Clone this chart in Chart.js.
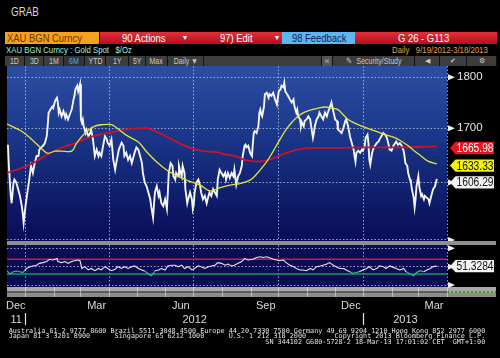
<!DOCTYPE html>
<html>
<head>
<meta charset="utf-8">
<script src="https://cdn.jsdelivr.net/npm/chart.js@4.4.1/dist/chart.umd.min.js"></script>
<style>
  html, body { margin:0; padding:0; background:#000; }
  #root { position:relative; width:500px; height:358px; overflow:hidden; background:#000;
          font-family:"Liberation Sans",Arial,sans-serif; }
  .t { position:absolute; white-space:pre; }
  .nx { display:inline-block; transform:scaleX(0.82); transform-origin:0 50%; white-space:pre; }
  .bar { position:absolute; height:12px; line-height:12px; font-size:11.5px; overflow:hidden; white-space:pre; }
  .bar span { position:absolute; top:0; }
  .red { background:linear-gradient(#e2303a,#b3101d); color:#fff; }
  .tb { position:absolute; top:56px; height:10px; line-height:10px; font-size:8.5px; color:#c9c9c9;
        background:#3d3d3d; text-align:center; border-right:1px solid #111; box-sizing:border-box;
        white-space:pre; overflow:hidden; }
  .tb .nx { transform-origin:50% 50%; }
  canvas { position:absolute; left:0; }
  #sep1 { position:absolute; left:7px; top:241px; width:489px; height:4px; background:#8f8f8f; }
  #band1 { position:absolute; left:7px; top:287px; width:489px; height:4px; background:#a9a9a9; }
  #band2 { position:absolute; left:7px; top:291px; width:489px; height:2px; background:#5a5a5a; }
  #band3 { position:absolute; left:7px; top:293px; width:489px; height:4px; background:#8c8c8c; }
  #bandR { position:absolute; left:449px; top:291px; width:46px; height:2px;
           background:repeating-linear-gradient(90deg,#7cd04a 0 2px,#6a7a60 2px 4px); }
  #foot { position:absolute; left:8.7px; top:328.5px; font-family:"DejaVu Sans Mono",monospace;
          font-size:6.78px; line-height:5.8px; color:#e2e2e2; white-space:pre; margin:0; }
</style>
</head>
<body>
<div id="root">
  <div class="t" style="left:11px;top:5px;font-size:12px;color:#d6d6d6;"><span class="nx">GRAB</span></div>

  <div class="bar" style="left:5px;top:32px;width:94px;background:#f6a11e;color:#6a3400;"><span style="left:2px" class="nx">XAU BGN Curncy</span></div>
  <div class="bar red" style="left:100px;top:32px;width:182px;">
    <span style="left:22px" class="nx">90 Actions</span><span style="left:83px;font-size:8px">&#9662;</span>
    <span style="left:120px" class="nx">97) Edit</span><span style="left:175px;font-size:8px">&#9662;</span>
  </div>
  <div class="bar" style="left:282px;top:32px;width:73px;background:#5fb5ef;color:#0c1e52;"><span style="left:10px" class="nx">98 Feedback</span></div>
  <div class="bar red" style="left:355px;top:32px;width:142px;"><span style="left:43px" class="nx">G 26 - G113</span></div>

  <div class="t" style="left:6px;top:44px;font-size:9.5px;color:#a6ecdc;"><span class="nx">XAU BGN Curncy : Gold Spot   $/Oz</span></div>
  <div class="t" style="left:392px;top:44px;font-size:9.5px;color:#e0a042;"><span class="nx">Daily   9/19/2012-3/18/2013</span></div>

  <div class="tb" style="left:5px;width:20px;"><span class="nx">1D</span></div>
  <div class="tb" style="left:25px;width:19px;"><span class="nx">3D</span></div>
  <div class="tb" style="left:44px;width:20px;"><span class="nx">1M</span></div>
  <div class="tb" style="left:64px;width:21px;color:#45a6ff;background:#333;"><span class="nx">6M</span></div>
  <div class="tb" style="left:85px;width:21px;"><span class="nx">YTD</span></div>
  <div class="tb" style="left:106px;width:23px;"><span class="nx">1Y</span></div>
  <div class="tb" style="left:129px;width:17px;"><span class="nx">5Y</span></div>
  <div class="tb" style="left:146px;width:22px;"><span class="nx">Max</span></div>
  <div class="tb" style="left:168px;width:36px;"><span class="nx">Daily &#9660;</span></div>
  <div class="tb" style="left:204px;width:118px;"></div>
  <div class="tb" style="left:322px;width:11px;background:#555;">&#171;</div>
  <div class="tb" style="left:333px;width:82px;"><span class="nx">&#9998;  Security/Study</span></div>
  <div class="tb" style="left:415px;width:25px;font-size:7px;">&#9664;</div>
  <div class="tb" style="left:440px;width:27px;font-size:7px;">&#10004;</div>
  <div class="tb" style="left:467px;width:30px;font-size:7px;">&#9881;</div>

  <div id="sep1"></div>
  <div id="band1"></div><div id="band2"></div><div id="band3"></div><div id="bandR"></div>

  <canvas id="priceChart" width="500" height="175" style="top:66px;width:500px;height:175px;"></canvas>
  <canvas id="rsiChart" width="500" height="85" style="top:245px;width:500px;height:85px;"></canvas>

<pre id="foot">Australia 61 2 9777 8600 Brazil 5511 3048 4500 Europe 44 20 7330 7500 Germany 49 69 9204 1210 Hong Kong 852 2977 6000
Japan 81 3 3201 8900      Singapore 65 6212 1000      U.S. 1 212 318 2000       Copyright 2013 Bloomberg Finance L.P.
                                                               SN 344102 G680-5728-2 18-Mar-13 17:01:02 CET  GMT+1:00</pre>
</div>

<script>
// ---------- DATA (x values are calendar days counted from 2012-01-01) ----------
const viewStart = '2011-12-12';
const viewEnd = '2013-04-01';
const quarterDates = ['2012-01-01','2012-04-01','2012-07-01','2012-10-01','2013-01-01','2013-04-01'];
const monthLabels = ['Dec','Mar','Jun','Sep','Dec','Mar'];
const monthDates = ['2012-01-01','2012-02-01','2012-03-01','2012-04-01','2012-05-01','2012-06-01','2012-07-01',
  '2012-08-01','2012-09-01','2012-10-01','2012-11-01','2012-12-01','2013-01-01','2013-02-01','2013-03-01','2013-04-01'];
const yearLabels = ['11','2012','2013'];
const yearStarts = ['2011-01-01','2012-01-01','2013-01-01'];
const yearEnds   = ['2012-01-01','2013-01-01','2014-01-01'];
const priceTicks = [1500,1600,1700,1800];
const rsiTicks = [0,50,100];
const rsiUpper = 70, rsiLower = 30;

const priceDays = [-19,-18,-16,-15,-13,-12,-10,-8,-6,-4,-3,-2,0,1,3,5,6,8,10,12,14,15,17,19,21,23,24,25,27,29,30,32,34,35,36,37,39,41,43,44,46,48,50,52,53,54,56,57,59,60,61,62,63,65,66,68,70,71,73,75,77,79,80,82,84,86,88,89,91,93,95,97,98,101,104,106,107,109,111,113,115,116,118,120,122,124,126,127,129,131,133,135,136,138,140,142,144,145,147,149,151,153,154,155,157,159,160,162,163,165,166,167,169,170,172,173,175,176,178,180,181,182,183,185,187,189,190,192,194,196,198,199,201,203,205,207,208,210,212,214,216,217,219,221,223,225,226,228,230,232,234,235,237,238,239,241,243,245,246,247,248,250,252,253,254,255,256,258,259,261,263,264,266,268,270,272,273,274,276,277,279,280,281,282,284,286,288,290,291,293,294,295,297,298,299,301,302,304,306,308,309,311,312,313,315,317,318,320,322,324,326,327,329,331,333,335,337,338,342,344,346,347,349,351,353,355,356,357,358,360,362,364,365,367,368,370,371,372,373,375,376,378,380,382,383,385,387,389,391,392,394,396,398,400,401,403,405,407,409,410,411,413,414,416,417,418,420,421,422,423,425,426,428,429,431,432,434,436,437,439,440,441,443,445];
const priceValues = [1669,1630,1578,1563,1599,1605,1600,1588,1576,1558,1546,1529,1558,1570,1593,1617,1630,1617,1635,1648,1648,1660,1664,1667,1672,1685,1704,1730,1736,1742,1739,1753,1759,1750,1730,1736,1723,1733,1720,1727,1717,1727,1736,1756,1763,1776,1783,1772,1786,1717,1711,1717,1704,1691,1697,1685,1691,1697,1679,1648,1660,1648,1654,1648,1667,1685,1679,1672,1667,1679,1641,1623,1633,1660,1673,1667,1648,1654,1641,1648,1635,1641,1654,1664,1660,1648,1635,1617,1600,1593,1582,1570,1558,1538,1582,1593,1576,1582,1563,1558,1570,1553,1582,1617,1635,1630,1611,1605,1617,1611,1630,1623,1611,1630,1617,1588,1563,1570,1582,1570,1553,1560,1582,1600,1605,1593,1582,1570,1576,1563,1576,1582,1576,1588,1582,1576,1605,1623,1617,1611,1617,1605,1617,1608,1617,1611,1623,1596,1611,1617,1630,1648,1667,1669,1664,1667,1654,1648,1672,1691,1695,1691,1704,1730,1736,1727,1723,1742,1766,1769,1759,1766,1763,1769,1756,1746,1759,1772,1776,1783,1780,1789,1772,1769,1763,1756,1750,1756,1742,1730,1736,1723,1717,1704,1711,1704,1714,1717,1723,1717,1704,1682,1691,1704,1717,1723,1730,1723,1717,1730,1723,1730,1739,1750,1733,1717,1714,1698,1691,1701,1714,1717,1704,1685,1672,1660,1648,1638,1654,1658,1654,1660,1658,1667,1682,1688,1672,1641,1632,1654,1660,1667,1672,1675,1679,1685,1691,1688,1682,1675,1660,1658,1667,1672,1675,1669,1672,1667,1658,1648,1635,1630,1617,1605,1600,1588,1573,1556,1570,1593,1611,1593,1576,1579,1570,1576,1573,1570,1563,1576,1582,1588,1593,1606.29];

const maFastDays = [-20,-3,8,19,24,32,39,50,55,64,75,84,93,97,109,122,131,142,153,163,174,189,199,210,221,232,243,248,259,266,273,281,288,295,302,310,317,324,331,338,349,364,378,389,400,407,414,421,428,436,445];
const maFastValues = [1708,1693,1677,1659,1653,1657,1657,1657,1671,1690,1704,1707,1707,1703,1687,1674,1656,1637,1622,1613,1604,1595,1585,1590,1595,1598,1604,1611,1633,1651,1672,1695,1711,1723,1731,1736,1739,1741,1739,1736,1717,1704,1695,1688,1682,1675,1667,1657,1648,1638,1633.33];

const maSlowDays = [-20,-6,8,23,37,52,66,80,95,109,124,133,142,153,167,180,192,207,216,227,237,248,259,270,281,292,302,313,324,338,362,405,445];
const maSlowValues = [1617,1625,1635,1650,1662,1671,1681,1688,1693,1698,1700,1700,1693,1684,1671,1662,1657,1655,1651,1648,1641,1638,1639,1645,1653,1659,1662,1663,1663,1663,1664,1664,1665.98];

const rsiDays = [-20,-17,-13,-10,-6,-3,-1,1,5,8,12,15,19,23,26,30,34,35,39,43,46,50,53,57,59,61,64,68,71,75,79,82,86,89,93,97,100,104,107,111,115,118,122,126,129,133,136,138,140,144,147,151,154,158,162,165,169,172,176,180,183,187,190,194,198,201,205,208,212,216,219,223,226,230,234,237,241,246,250,254,257,261,264,268,272,275,279,282,286,290,293,297,300,304,308,311,315,319,322,326,329,333,336,340,344,347,351,354,358,361,365,369,372,376,380,383,387,390,394,398,401,405,409,412,416,420,423,427,431,434,438,441,445];
const rsiValues = [39,30,36,38,36,34,39,45,50,52,54,59,61,64,70,68,72,64,61,64,59,64,66,68,66,45,50,41,45,39,45,41,50,45,39,43,50,45,50,45,50,52,45,41,38,30,25,30,39,41,45,41,52,54,54,50,54,45,50,41,45,52,50,45,50,52,54,61,59,54,57,52,54,59,64,72,68,70,75,77,75,77,74,70,68,66,68,61,54,50,45,41,41,39,45,41,50,52,54,57,61,54,50,45,45,41,36,32,34,36,41,45,50,41,45,52,50,45,52,48,45,41,45,36,30,25,34,39,36,41,45,50,51.3284];

// ---------- helpers ----------
const SANS = '"Liberation Sans",Arial,sans-serif';
const ORIGIN = Date.UTC(2012, 0, 1);
const dayOf = s => { const [y, m, d] = s.split('-').map(Number); return Math.round((Date.UTC(y, m - 1, d) - ORIGIN) / 86400000); };
const xMin = dayOf(viewStart), xMax = dayOf(viewEnd);
const quarterDays = quarterDates.map(dayOf);
const monthDays = monthDates.map(dayOf);
const pts = (xs, ys) => xs.map((x, i) => ({ x, y: ys[i] }));
const GRID = 'rgba(178,188,228,0.85)';
const LABEL_SHIFT = 14;   // month label sits just before each quarter line (days)

const monthLabelTicks = quarterDays.map((d, i) => ({ value: Math.max(d - LABEL_SHIFT, xMin + 9.5), label: monthLabels[i] }));
const yearTicks = [];
yearLabels.forEach((lab, i) => {
  const a = Math.max(dayOf(yearStarts[i]), xMin), b = Math.min(dayOf(yearEnds[i]), xMax);
  if (dayOf(yearStarts[i]) > xMin) yearTicks.push({ value: dayOf(yearStarts[i]), label: '' });
  yearTicks.push({ value: (a + b) / 2, label: lab });
});
yearTicks.sort((p, q) => p.value - q.value);

Chart.defaults.font.family = SANS;
Chart.defaults.animation = false;

// ---------- plugins ----------
const panelBg = {
  id: 'panelBg',
  beforeDraw(chart, args, opts) {
    const { ctx, chartArea: a } = chart;
    ctx.save();
    if (opts.stops) {
      const g = ctx.createLinearGradient(0, a.top, 0, a.bottom);
      opts.stops.forEach(s => g.addColorStop(s[0], s[1]));
      ctx.fillStyle = g;
    } else ctx.fillStyle = opts.color;
    ctx.fillRect(a.left, a.top, a.right - a.left, a.bottom - a.top);
    ctx.restore();
  }
};
const axisMarkers = {
  id: 'axisMarkers',
  afterDraw(chart) {
    const { ctx, chartArea: a } = chart;
    const s = chart.scales.y;
    ctx.save();
    ctx.fillStyle = '#f2f2f2';
    s.ticks.forEach(t => {
      const p = s.getPixelForValue(t.value);
      ctx.beginPath();
      ctx.moveTo(a.right + 1, p - 3); ctx.lineTo(a.right + 8, p); ctx.lineTo(a.right + 1, p + 3);
      ctx.closePath(); ctx.fill();
    });
    ctx.restore();
  }
};
const valueTags = {
  id: 'valueTags',
  afterDraw(chart, args, opts) {
    const { ctx, chartArea: a } = chart;
    const s = chart.scales.y;
    const items = opts.tags.map(t => {
      const ds = chart.data.datasets[t.dataset];
      const v = ds.data[ds.data.length - 1].y;
      return Object.assign({}, t, { v, py: s.getPixelForValue(v) + opts.offset });
    }).sort((p, q) => p.py - q.py);
    let prev = -1e9;
    items.forEach(it => { it.py = Math.max(it.py, prev + opts.gap); prev = it.py; });
    ctx.save();
    ctx.font = opts.fontSize + 'px ' + SANS;
    ctx.textBaseline = 'middle';
    items.forEach(it => {
      const r = a.right, h = 6.2, y = it.py;
      ctx.beginPath();
      ctx.moveTo(r + 3, y); ctx.lineTo(r + 8.5, y - h); ctx.lineTo(r + 47, y - h);
      ctx.lineTo(r + 47, y + h); ctx.lineTo(r + 8.5, y + h); ctx.closePath();
      ctx.fillStyle = it.bg; ctx.fill();
      ctx.fillStyle = it.fg;
      ctx.save();
      ctx.translate(r + 9.5, y + 0.5);
      ctx.scale(0.82, 1);
      ctx.fillText(it.v.toFixed(it.digits), 0, 0);
      ctx.restore();
    });
    ctx.restore();
  }
};

const fitY = s => { s.width = 53; s.paddingTop = 0; s.paddingBottom = 0; };
const fitX = h => s => { s.height = h; s.paddingLeft = 0; s.paddingRight = 0; };

// ---------- price panel ----------
new Chart(document.getElementById('priceChart'), {
  type: 'line',
  data: {
    datasets: [
      { data: pts(maFastDays, maFastValues), borderColor: '#e4e43a', borderWidth: 1.3, pointRadius: 0, tension: 0.35 },
      { data: pts(maSlowDays, maSlowValues), borderColor: '#c9132d', borderWidth: 1.8, pointRadius: 0, tension: 0.35 },
      { data: pts(priceDays, priceValues), borderColor: '#f4f4f4', borderWidth: 1.9, pointRadius: 0, tension: 0 }
    ]
  },
  options: {
    responsive: false, animation: false, events: [],
    layout: { autoPadding: false, padding: { left: 7, right: 0, top: 0, bottom: 0 } },
    plugins: {
      legend: { display: false }, tooltip: { enabled: false },
      panelBg: { stops: [[0, '#2c4ea1'], [0.35, '#1d3a8d'], [0.7, '#10216f'], [1, '#0a0c57']] },
      valueTags: { offset: 1.6, gap: 16.8, fontSize: 12.5, tags: [
        { dataset: 1, bg: '#e5141f', fg: '#ffffff', digits: 2 },
        { dataset: 0, bg: '#f2f20a', fg: '#111111', digits: 2 },
        { dataset: 2, bg: '#f4f4f4', fg: '#111111', digits: 2 } ] }
    },
    scales: {
      x: { type: 'linear', min: xMin, max: xMax,
           afterBuildTicks: s => { s.ticks = quarterDays.map(v => ({ value: v })); },
           afterFit: fitX(0),
           ticks: { display: false },
           grid: { color: GRID, drawTicks: false, lineWidth: 1 },
           border: { display: false, dash: [1.5, 2] } },
      y: { type: 'logarithmic', position: 'right', min: 1498.3, max: 1822.9,
           afterBuildTicks: s => { s.ticks = priceTicks.map(v => ({ value: v })); },
           afterFit: fitY,
           ticks: { color: '#e4e4e4', padding: 10, font: { size: 11.5 },
                    callback: v => (v === priceTicks[0] ? '' : String(v)) },
           grid: { color: GRID, drawTicks: false, lineWidth: 1 },
           border: { display: false, dash: [1.5, 2] } }
    }
  },
  plugins: [panelBg, axisMarkers, valueTags]
});

// ---------- RSI panel ----------
new Chart(document.getElementById('rsiChart'), {
  type: 'line',
  data: {
    datasets: [
      { data: pts(rsiDays, rsiValues), borderWidth: 1.1, pointRadius: 0, tension: 0,
        borderColor: '#e6e6e6',
        segment: { borderColor: c => ((c.p0.parsed.y + c.p1.parsed.y) / 2 < 38.5 ? '#37c47a' : '#e6e6e6') } },
      { data: [{ x: xMin, y: rsiUpper }, { x: xMax, y: rsiUpper }], borderColor: '#c81e3a', borderWidth: 1.5, pointRadius: 0 },
      { data: [{ x: xMin, y: rsiLower }, { x: xMax, y: rsiLower }], borderColor: '#169a5c', borderWidth: 1.5, pointRadius: 0 }
    ]
  },
  options: {
    responsive: false, animation: false, events: [],
    layout: { autoPadding: false, padding: { left: 7, right: 0, top: 0, bottom: 0 } },
    plugins: {
      legend: { display: false }, tooltip: { enabled: false },
      panelBg: { color: '#0c0c56' },
      valueTags: { offset: 0, gap: 0, fontSize: 12.5, tags: [ { dataset: 0, bg: '#f4f4f4', fg: '#111111', digits: 4 } ] }
    },
    scales: {
      x: { type: 'linear', min: xMin, max: xMax, weight: 0,
           afterBuildTicks: s => { s.ticks = monthDays.map(v => ({ value: v })); },
           afterFit: fitX(10),
           ticks: { display: false },
           grid: { color: c => (quarterDays.includes(c.tick.value) ? GRID : 'rgba(0,0,0,0)'),
                   drawTicks: true, tickLength: 10, tickWidth: 1, tickBorderDash: [],
                   tickColor: 'rgba(235,235,235,0.55)' },
           border: { display: false, dash: [1.5, 2] } },
      xm: { type: 'linear', position: 'bottom', min: xMin, max: xMax, weight: 1,
            afterBuildTicks: s => { s.ticks = monthLabelTicks.map(t => ({ value: t.value })); },
            afterFit: fitX(16),
            ticks: { color: '#dadada', padding: 2.4, font: { size: 11 }, autoSkip: false, maxRotation: 0,
                     callback: (v, i) => monthLabelTicks[i].label },
            grid: { display: false, drawTicks: false, tickLength: 0 }, border: { display: false } },
      xy: { type: 'linear', position: 'bottom', min: xMin, max: xMax, weight: 2,
            afterBuildTicks: s => { s.ticks = yearTicks.map(t => ({ value: t.value })); },
            afterFit: fitX(17),
            ticks: { color: '#dadada', padding: -11.6, font: { size: 11 }, autoSkip: false, maxRotation: 0,
                     callback: (v, i) => yearTicks[i].label },
            grid: { drawOnChartArea: false, drawTicks: true, tickLength: 12, tickWidth: 1.2,
                    tickColor: c => (yearTicks[c.index] && yearTicks[c.index].label === '' ? '#e8e8e8' : 'rgba(0,0,0,0)') },
            border: { display: false } },
      y: { type: 'linear', position: 'right', min: -5.44, max: 108.98,
           afterBuildTicks: s => { s.ticks = rsiTicks.map(v => ({ value: v })); },
           afterFit: fitY,
           ticks: { display: false },
           grid: { color: GRID, drawTicks: false },
           border: { display: false, dash: [1.5, 2] } }
    }
  },
  plugins: [panelBg, axisMarkers, valueTags]
});
</script>
</body>
</html>
